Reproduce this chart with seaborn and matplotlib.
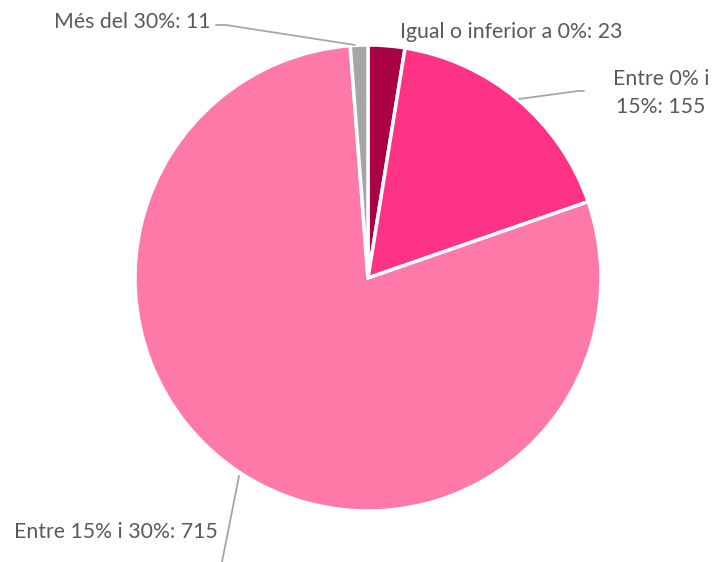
import matplotlib
matplotlib.use("Agg")
import matplotlib.pyplot as plt
import seaborn as sns

categories = ["Igual o inferior a 0%", "Entre 0% i 15%", "Entre 15% i 30%", "Més del 30%"]
values = [23, 155, 715, 11]
colors = ["#AA0044", "#FF3385", "#FF79A8", "#A5A5A5"]

sns.set_theme(style="white")
plt.rcParams['font.family'] = ['Lato', 'DejaVu Sans']

W, H = 713, 562
fig = plt.figure(figsize=(W / 100, H / 100), dpi=100)
ax = fig.add_axes([0, 0, 1, 1])

cx, cy, r = 368, H - 278, 233
ax.pie(values, colors=sns.color_palette(colors), startangle=90, counterclock=False,
       center=(cx, cy), radius=r, frame=True,
       wedgeprops=dict(edgecolor="white", linewidth=2.5))
ax.set_xlim(0, W)
ax.set_ylim(0, H)
ax.set_aspect("equal")
ax.axis("off")

tc = "#595959"
lc = "#A6A6A6"
fs = 15.3

def py(y):
    return H - y

# Més del 30%
ax.text(210, py(22), f"{categories[3]}: {values[3]}", ha="right", va="center", fontsize=fs, color=tc)
ax.plot([216, 226, 355], [py(25), py(25), py(45)], color=lc, lw=1.3)
# Igual o inferior a 0%
ax.text(400, py(32), f"{categories[0]}: {values[0]}", ha="left", va="center", fontsize=fs, color=tc)
# Entre 0% i 15%
ax.text(661, py(93), "Entre 0% i\n15%: 155", ha="center", va="center", fontsize=fs, color=tc, linespacing=1.5)
ax.plot([519, 578, 584], [py(99), py(91), py(91)], color=lc, lw=1.3)
# Entre 15% i 30%
ax.text(14, py(532), f"{categories[2]}: {values[2]}", ha="left", va="center", fontsize=fs, color=tc)
ax.plot([239, 222], [py(476), py(562)], color=lc, lw=1.3)

fig.savefig("out.png", dpi=100)
